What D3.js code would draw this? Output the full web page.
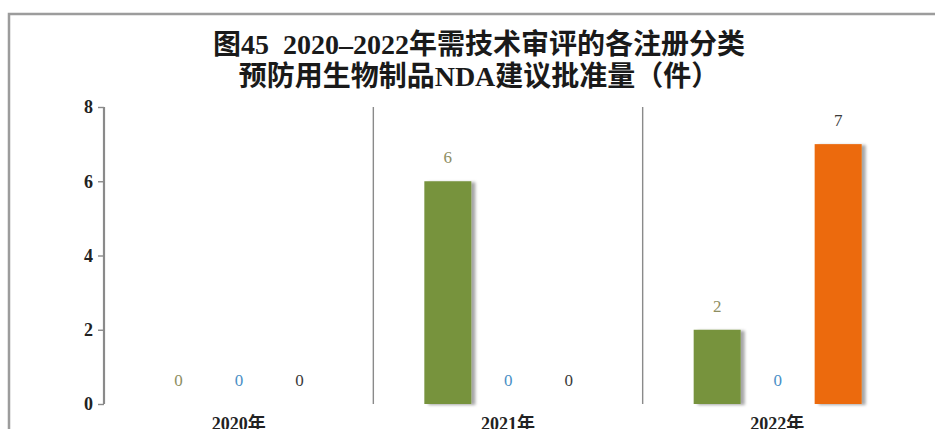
<!DOCTYPE html>
<html>
<head>
<meta charset="utf-8">
<script src="https://cdn.jsdelivr.net/npm/d3@7"></script>
<style>
  html, body { margin: 0; padding: 0; background: #fff; }
  svg { display: block; }
</style>
</head>
<body>
<svg id="chart" width="935" height="429"></svg>
<script>
// Approvals per year for each registration category
const categories = ["2020年", "2021年", "2022年"];
const seriesKeys = ["cat1", "cat2", "cat3"];
const cat1Values = [0, 6, 2];
const cat2Values = [0, 0, 0];
const cat3Values = [0, 0, 7];
const yTicks = [0, 2, 4, 6, 8];
const titleLines = ["图45\u00a0\u00a02020–2022年需技术审评的各注册分类", "预防用生物制品NDA建议批准量（件）"];

const barColors = { cat1: "#77933c", cat2: "#4f81bd", cat3: "#ec6a0a" };
const labelColors = { cat1: "#8e8e62", cat2: "#4a8fc6", cat3: "#3a3a3a" };
const valuesByKey = { cat1: cat1Values, cat2: cat2Values, cat3: cat3Values };

const serif = "'Liberation Serif', 'Times New Roman', 'Noto Sans CJK SC', serif";

const svg = d3.select("#chart");
const defs = svg.append("defs");

const barShadow = defs.append("filter").attr("id", "barShadow")
  .attr("x", "-20%").attr("y", "-5%").attr("width", "150%").attr("height", "110%");
barShadow.append("feDropShadow").attr("dx", 4).attr("dy", 1)
  .attr("stdDeviation", 1.6).attr("flood-color", "#000").attr("flood-opacity", 0.35);

const lineShadow = defs.append("filter").attr("id", "lineShadow")
  .attr("x", "-10%").attr("y", "-10%").attr("width", "120%").attr("height", "130%");
lineShadow.append("feDropShadow").attr("dx", 2).attr("dy", 2)
  .attr("stdDeviation", 1).attr("flood-color", "#000").attr("flood-opacity", 0.3);

// Outer frame (runs past the right and bottom edges)
svg.append("rect")
  .attr("x", 9).attr("y", 14).attr("width", 960).attr("height", 450)
  .attr("fill", "#fff").attr("stroke", "#9c9c9c").attr("stroke-width", 2.5)
  .attr("filter", "url(#lineShadow)");

// Title
svg.append("g").selectAll("text").data(titleLines).join("text")
  .attr("x", 479).attr("y", (d, i) => 54 + i * 32)
  .attr("text-anchor", "middle")
  .attr("font-family", serif).attr("font-weight", "bold")
  .attr("font-size", 28).attr("fill", "#1a1a1a")
  .text(d => d);

const plot = { left: 104, right: 912, top: 107, bottom: 404 };

const x0 = d3.scaleBand().domain(categories).range([plot.left, plot.right]).padding(0);
const x1 = d3.scaleBand().domain(seriesKeys).range([51, 219]).paddingInner(0.223).paddingOuter(0);
const y = d3.scaleLinear().domain([0, 8]).range([plot.bottom, plot.top]);

// Category separators
svg.append("g").selectAll("line").data(categories.slice(1)).join("line")
  .attr("x1", d => x0(d)).attr("x2", d => x0(d))
  .attr("y1", plot.top).attr("y2", plot.bottom)
  .attr("stroke", "#8a8a8a").attr("stroke-width", 1.4);

// Right border of plot area
svg.append("line")
  .attr("x1", plot.right).attr("x2", plot.right)
  .attr("y1", plot.top).attr("y2", plot.bottom + 2)
  .attr("stroke", "#8c8c8c").attr("stroke-width", 2.5)
  .attr("filter", "url(#lineShadow)");

// Bars
const groups = svg.append("g").selectAll("g").data(categories).join("g")
  .attr("transform", d => `translate(${x0(d)},0)`);

const rows = (cat, ci) => seriesKeys.map(k => ({ key: k, value: valuesByKey[k][ci] }));

groups.each(function (cat, ci) {
  const g = d3.select(this);
  const data = rows(cat, ci);
  g.selectAll("rect").data(data.filter(d => d.value > 0)).join("rect")
    .attr("x", d => x1(d.key)).attr("width", x1.bandwidth())
    .attr("y", d => y(d.value)).attr("height", d => y(0) - y(d.value))
    .attr("fill", d => barColors[d.key])
    .attr("filter", "url(#barShadow)");
  g.selectAll("text").data(data).join("text")
    .attr("x", d => x1(d.key) + x1.bandwidth() / 2)
    .attr("y", d => y(d.value) - 18)
    .attr("text-anchor", "middle")
    .attr("font-family", serif).attr("font-size", 17)
    .attr("fill", d => labelColors[d.key])
    .text(d => d.value);
});

// Y axis
const yAxis = svg.append("g").attr("transform", `translate(${plot.left},0)`)
  .call(d3.axisLeft(y).tickValues(yTicks).tickSize(6).tickPadding(5));
yAxis.select(".domain").attr("stroke", "#8a8a8a").attr("stroke-width", 2.2)
  .attr("d", `M0,${plot.top}V${plot.bottom}`);
yAxis.selectAll(".tick line").attr("stroke", "#8a8a8a").attr("stroke-width", 1.4);
yAxis.selectAll(".tick text")
  .attr("font-family", serif).attr("font-weight", "bold")
  .attr("font-size", 18).attr("fill", "#222");

// X axis
const xAxis = svg.append("g").attr("transform", `translate(0,${plot.bottom + 1})`)
  .call(d3.axisBottom(x0).tickSize(0).tickPadding(12));
xAxis.select(".domain").attr("stroke", "#8c8c8c").attr("stroke-width", 3)
  .attr("filter", "url(#lineShadow)");
xAxis.selectAll(".tick text")
  .attr("font-family", serif).attr("font-weight", "bold")
  .attr("font-size", 18).attr("fill", "#222");
</script>
</body>
</html>
